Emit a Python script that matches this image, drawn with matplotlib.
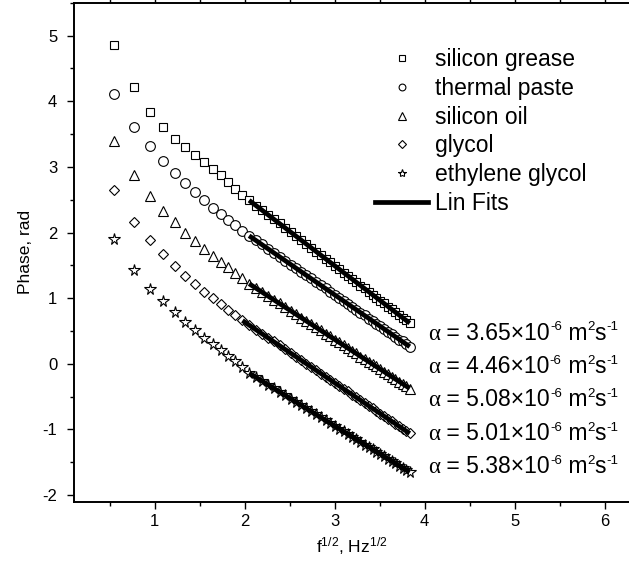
import numpy as np
import matplotlib
matplotlib.use("Agg")
import matplotlib.pyplot as plt
from matplotlib.ticker import MultipleLocator
from matplotlib.lines import Line2D

plt.rcParams['font.family'] = ['Liberation Sans', 'DejaVu Sans']
plt.rcParams['mathtext.fontset'] = 'custom'
plt.rcParams['mathtext.rm'] = 'Liberation Sans'
plt.rcParams['mathtext.it'] = 'Liberation Sans:italic'
plt.rcParams['mathtext.bf'] = 'Liberation Sans:bold'
plt.rcParams['axes.unicode_minus'] = False

# sqrt(f), Hz^1/2
x_sqrt_f = [0.548, 0.775, 0.949, 1.095, 1.225, 1.342, 1.449, 1.549, 1.643, 1.732,
            1.817, 1.897, 1.975, 2.049, 2.121, 2.191, 2.258, 2.324, 2.387, 2.449,
            2.510, 2.569, 2.627, 2.683, 2.739, 2.793, 2.846, 2.898, 2.950, 3.000,
            3.050, 3.098, 3.146, 3.194, 3.240, 3.286, 3.332, 3.376, 3.421, 3.464,
            3.507, 3.550, 3.592, 3.633, 3.674, 3.715, 3.755, 3.795, 3.834]

silicon_grease = [4.86, 4.21, 3.84, 3.61, 3.43, 3.30, 3.18, 3.07, 2.97, 2.88,
                  2.77, 2.67, 2.57, 2.49, 2.41, 2.34, 2.27, 2.20, 2.14, 2.07,
                  2.01, 1.95, 1.88, 1.83, 1.77, 1.71, 1.66, 1.60, 1.55, 1.49,
                  1.44, 1.39, 1.34, 1.29, 1.24, 1.19, 1.15, 1.10, 1.05, 1.01,
                  0.96, 0.92, 0.87, 0.83, 0.79, 0.74, 0.70, 0.66, 0.62]

thermal_paste = [4.11, 3.60, 3.32, 3.09, 2.91, 2.75, 2.61, 2.49, 2.38, 2.28,
                 2.19, 2.11, 2.03, 1.95, 1.88, 1.82, 1.75, 1.69, 1.63, 1.57,
                 1.51, 1.46, 1.40, 1.35, 1.30, 1.25, 1.20, 1.15, 1.10, 1.05,
                 1.00, 0.96, 0.91, 0.87, 0.82, 0.78, 0.74, 0.69, 0.65, 0.61,
                 0.57, 0.53, 0.49, 0.45, 0.41, 0.37, 0.34, 0.30, 0.26]

silicon_oil = [3.39, 2.88, 2.56, 2.33, 2.16, 2.00, 1.87, 1.75, 1.64, 1.55,
               1.47, 1.39, 1.30, 1.22, 1.16, 1.09, 1.03, 0.97, 0.92, 0.86,
               0.81, 0.76, 0.70, 0.65, 0.60, 0.56, 0.51, 0.46, 0.42, 0.37,
               0.33, 0.28, 0.24, 0.20, 0.16, 0.11, 0.07, 0.03, -0.01, -0.04,
               -0.08, -0.12, -0.16, -0.20, -0.23, -0.27, -0.30, -0.34, -0.38]

glycol = [2.65, 2.16, 1.89, 1.67, 1.49, 1.33, 1.21, 1.10, 1.00, 0.91,
          0.82, 0.74, 0.66, 0.59, 0.52, 0.46, 0.40, 0.34, 0.28, 0.22,
          0.16, 0.11, 0.06, 0.00, -0.05, -0.10, -0.15, -0.20, -0.24, -0.29,
          -0.34, -0.38, -0.42, -0.47, -0.51, -0.55, -0.60, -0.64, -0.68, -0.72,
          -0.76, -0.80, -0.84, -0.87, -0.91, -0.95, -0.99, -1.02, -1.06]

ethylene_glycol = [1.90, 1.43, 1.14, 0.96, 0.79, 0.64, 0.51, 0.40, 0.30, 0.21,
                   0.12, 0.04, -0.05, -0.14, -0.20, -0.26, -0.32, -0.37, -0.43, -0.48,
                   -0.53, -0.58, -0.63, -0.68, -0.72, -0.77, -0.81, -0.86, -0.90, -0.94,
                   -0.99, -1.03, -1.07, -1.11, -1.15, -1.19, -1.23, -1.26, -1.30, -1.34,
                   -1.37, -1.41, -1.45, -1.48, -1.51, -1.55, -1.58, -1.62, -1.65]

series_names = ["silicon grease", "thermal paste", "silicon oil", "glycol", "ethylene glycol"]
series_values = [silicon_grease, thermal_paste, silicon_oil, glycol, ethylene_glycol]
fit_start = [2.04, 2.04, 2.04, 1.97, 2.04]   # first sqrt(f) used in each linear fit
alpha_labels = ["3.65", "4.46", "5.08", "5.01", "5.38"]
alpha_label_y = [0.37, -0.14, -0.645, -1.16, -1.665]   # baselines

markers = ['s', 'o', '^', 'D', '*']
msizes = [6.0, 7.0, 7.5, 5.5, 8.5]

FS = 16.5
SUP = 9.5

fig = plt.figure(figsize=(6.29, 5.67), dpi=100)
ax = fig.add_axes([0.1176, 0.1152, 0.8824, 0.8800])

x = np.array(x_sqrt_f)
handles = []
for name, vals, m, ms in zip(series_names, series_values, markers, msizes):
    h, = ax.plot(x, vals, linestyle='none', marker=m, markersize=ms,
                 markerfacecolor='white', markeredgecolor='black',
                 markeredgewidth=0.8, label=name, zorder=2)
    handles.append(h)

for vals, xs in zip(series_values, fit_start):
    v = np.array(vals)
    sel = x >= xs
    p = np.polyfit(x[sel], v[sel], 1)
    xx = np.array([x[sel][0], x[sel][-1]])
    ax.plot(xx, np.polyval(p, xx), color='black', linewidth=3.4,
            solid_capstyle='butt', zorder=3)

fit_handle = Line2D([], [], color='black', linewidth=3.4, label='Lin Fits')
handles.append(fit_handle)

leg = ax.legend(handles=handles, loc='upper left', bbox_to_anchor=(0.543, 0.909),
                frameon=False, fontsize=FS, markerscale=0.7, handlelength=2.3,
                handletextpad=0.3, labelspacing=0.25, borderpad=0, borderaxespad=0)

# alpha annotations built from pieces (main text + small raised superscripts)
for lab, yy in zip(alpha_labels, alpha_label_y):
    pieces = [("α", False, 'Liberation Serif'),
              (" = " + lab + "×10", False, None),
              ("-6", True, None),
              (" m", False, None),
              ("2", True, None),
              ("s", False, None),
              ("-1", True, None)]
    prev = None
    for s, sup, fam in pieces:
        kw = dict(fontsize=SUP if sup else FS, va='baseline', ha='left')
        if fam:
            kw['family'] = fam
        if prev is None:
            prev = ax.text(4.04, yy, s, **kw)
        else:
            prev = ax.annotate(s, xy=(1, yy), xycoords=(prev, 'data'),
                               xytext=(0, 6.5 if sup else 0), textcoords='offset points',
                               **kw)

ax.set_xlim(0.103, 6.27)
ax.set_ylim(-2.10, 5.50)
ax.xaxis.set_major_locator(MultipleLocator(1))
ax.xaxis.set_minor_locator(MultipleLocator(0.5))
ax.yaxis.set_major_locator(MultipleLocator(1))
ax.yaxis.set_minor_locator(MultipleLocator(0.5))
ax.tick_params(which='both', direction='out', width=1.0, labelsize=12, top=True, labeltop=False)
ax.tick_params(which='major', length=5, pad=4)
ax.tick_params(which='minor', length=3)
ax.tick_params(axis='y', which='major', pad=7)
for s in ['left', 'bottom', 'top']:
    ax.spines[s].set_linewidth(1.4)
ax.spines['right'].set_visible(False)

ax.set_xlabel(r'f$^{1/2}$, Hz$^{1/2}$', fontsize=12.5, labelpad=4)
ax.set_ylabel('Phase, rad', fontsize=12.5, labelpad=7)

fig.savefig('out.png', dpi=100)
